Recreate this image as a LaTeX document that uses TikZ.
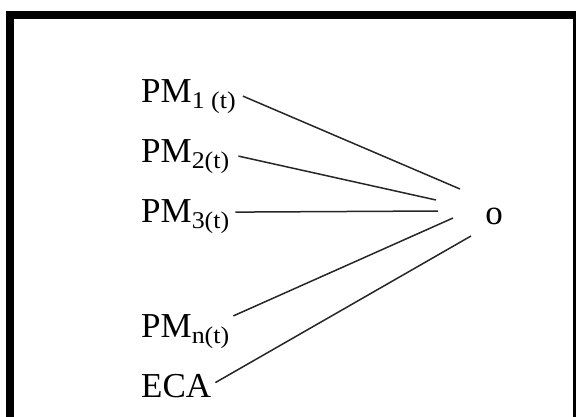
\documentclass[tikz,border=0pt]{standalone}
\usepackage{fontspec}
\setmainfont{Liberation Serif}
\usepackage{tikz}
\usetikzlibrary{positioning}

% lowered index of a term
\newcommand{\idx}[1]{\raisebox{-6pt}{\scalebox{1.08}[1]{\fontsize{24}{24}\selectfont #1}}}

\begin{document}
\begin{tikzpicture}[x=1pt, y=-1pt]
    % Define styles
    \tikzstyle{term} = [anchor=base west, inner xsep=4pt, inner ysep=0pt, font=\fontsize{35}{40}\selectfont]
    \tikzstyle{line} = [draw, line width=1.5pt, black!85]
    \tikzstyle{frame} = [draw, line width=8pt]

    \useasboundingbox (0,0) rectangle (576,416);

    % Frame, open at the bottom
    \draw[frame] (10,430) -- (10,15) -- (577,15) -- (577,430);

    % Input terms
    \node[term] (PM1) at (137,102) {PM\idx{1 (t)}};
    \node[term] (PM2) at (137,162) {PM\idx{2(t)}};
    \node[term] (PM3) at (137,222) {PM\idx{3(t)}};
    \node[term] (PMn) at (137,337) {PM\idx{n(t)}};
    \node[term] (ECA) at (137,397) {ECA};

    % Output
    \node[term, anchor=center] (out) at (494,216) {o};

    % Free ends near the output
    \coordinate (in1) at (460,189);
    \coordinate (in2) at (436,200);
    \coordinate (in3) at (438,211);
    \coordinate (in4) at (453,218);
    \coordinate (in5) at (471,236);

    % Connections
    \draw[line] ([xshift=3pt]PM1.east) -- (in1);
    \draw[line] ([xshift=5pt]PM2.east) -- (in2);
    \draw[line] ([xshift=2pt, yshift=4pt]PM3.east) -- (in3);
    \draw[line] ([yshift=-2pt]PMn.north east) -- (in4);
    \draw[line] ([yshift=3pt]ECA.east) -- (in5);

\end{tikzpicture}
\end{document}
